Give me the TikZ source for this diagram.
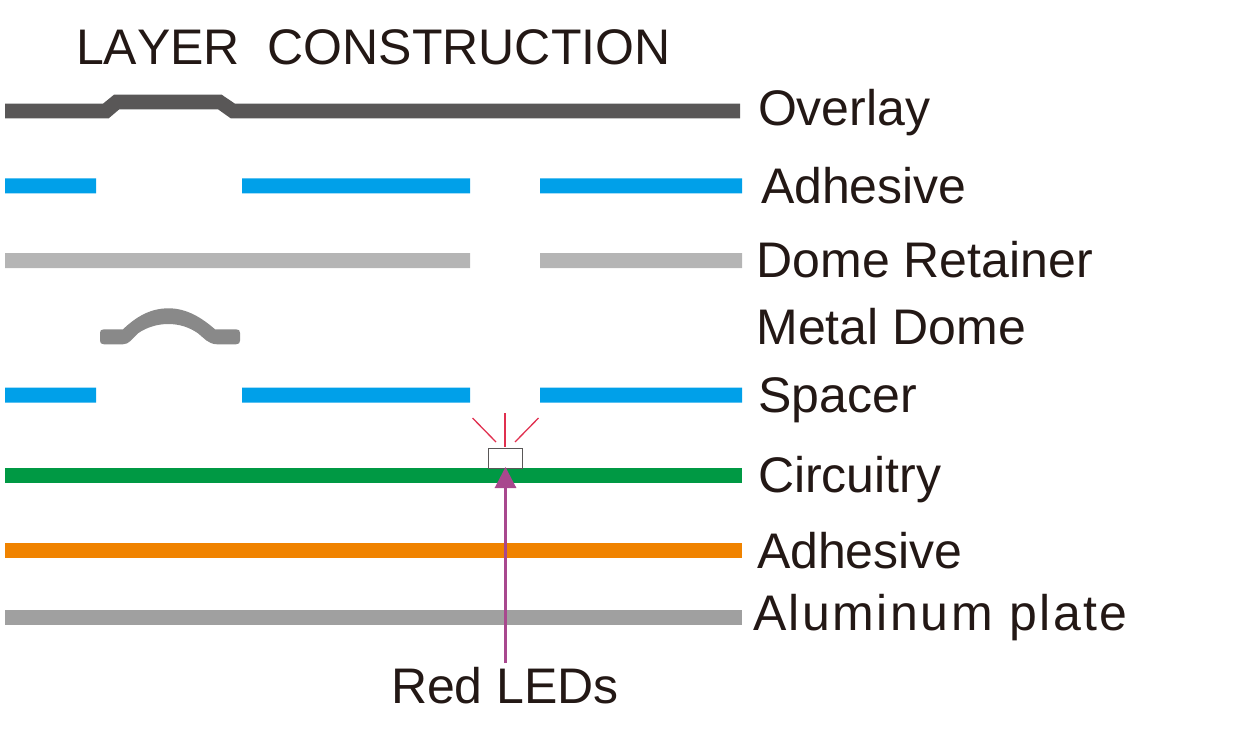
\documentclass[tikz,border=0pt]{standalone}
\usepackage{fontspec}
\setmainfont{Liberation Sans}
\usetikzlibrary{arrows.meta}
\definecolor{inkc}{HTML}{231815}
\definecolor{overlayc}{HTML}{595757}
\definecolor{bluec}{HTML}{00A0E9}
\definecolor{retainc}{HTML}{B5B5B5}
\definecolor{domec}{HTML}{898989}
\definecolor{greenc}{HTML}{009944}
\definecolor{orangec}{HTML}{F08300}
\definecolor{alumc}{HTML}{A0A0A0}
\definecolor{rayc}{HTML}{E0304F}
\definecolor{purplec}{HTML}{A8488E}
\tikzset{
  lbl/.style={anchor=base west,inner sep=0pt,outer sep=0pt,text=inkc,font=\fontsize{50}{50}\selectfont},
  ledbox/.style={draw=overlayc,line width=1pt,fill=white,minimum width=34pt,minimum height=19.5pt,inner sep=0pt},
  ray/.style={draw=rayc,line width=1.3pt},
  pointer/.style={draw=purplec,line width=3pt,-{Triangle[length=21pt,width=21pt,fill=purplec]}}
}
\begin{document}
\begin{tikzpicture}[x=1pt,y=-1pt]
\useasboundingbox (0,0) rectangle (1238,728);
% layers
\fill[overlayc] (5,103.7) -- (103,103.7) -- (114,94.7) -- (221.7,94.7) -- (235,103.7) -- (740,103.7) -- (740,118.3) -- (230.7,118.3) -- (218,109.3) -- (119.3,109.3) -- (108.7,118.3) -- (5,118.3) -- cycle;
\fill[bluec] (5,178.3) rectangle (96,193.3) (242,178.3) rectangle (470,193.3) (540,178.3) rectangle (742,193.3);
\fill[retainc] (5,253) rectangle (470,268) (540,253) rectangle (742,268);
\fill[domec] (100,333) .. controls (100,330.5) and (101,329.3) .. (104,329.3) -- (123,329.3)
  .. controls (136,317) and (150,308.3) .. (168.5,308.3)
  .. controls (187,308.3) and (202,318) .. (215,329.3) -- (236,329.3)
  .. controls (239,329.3) and (240,330.5) .. (240,333) -- (240,340.5)
  .. controls (240,343) and (239,344.3) .. (236,344.3) -- (217,344.3)
  .. controls (208,344) and (204,338) .. (198,333.3)
  .. controls (189,327) and (179,324) .. (168,324)
  .. controls (158,324) and (147,327) .. (138,333.3)
  .. controls (132,339) and (129,344.3) .. (123,344.3) -- (104,344.3)
  .. controls (101,344.3) and (100,343) .. (100,340.5) -- cycle;
\fill[bluec] (5,387.5) rectangle (96,402.5) (242,387.5) rectangle (470,402.5) (540,387.5) rectangle (742,402.5);
\fill[greenc] (5,467.5) rectangle (742,482.5);
\fill[orangec] (5,543) rectangle (742,558);
\fill[alumc] (5,609.5) rectangle (742,624.5);
% LED
\node[ledbox] (led) at (505.3,458.5) {};
\coordinate (rayAa) at (505.2,413); \coordinate (rayAb) at (505.2,446.5);
\coordinate (rayBa) at (472.5,418); \coordinate (rayBb) at (496,442);
\coordinate (rayCa) at (538.5,418); \coordinate (rayCb) at (515,442);
\draw[ray,line width=1.8pt] (rayAa) -- (rayAb);
\draw[ray] (rayBa) -- (rayBb);
\draw[ray] (rayCa) -- (rayCb);
% labels
\node[lbl] (title) at (76,64.5) {\addfontfeature{Kerning=Off}LAYER\ \ CONSTRUCTION};
\node[lbl] (overlay) at (758,125) {Overlay};
\node[lbl] (adhesiveA) at (761,203) {Adhesive};
\node[lbl] (retainer) at (756.5,277) {Dome Retainer};
\node[lbl] (dome) at (756.5,344) {Metal Dome};
\node[lbl] (spacer) at (758.5,412.5) {Spacer};
\node[lbl] (circuitry) at (758,492) {Circuitry};
\node[lbl] (adhesiveB) at (757,568.5) {Adhesive};
\node[lbl] (alum) at (753,630) {\addfontfeature{LetterSpace=5}Aluminum plate};
\node[lbl,anchor=base] (redleds) at (505,703) {Red LEDs};
\coordinate (arrowstart) at (505.5,663);
\coordinate (arrowend) at (505.5,467);
\draw[pointer] (arrowstart) -- (arrowend);
\end{tikzpicture}
\end{document}
